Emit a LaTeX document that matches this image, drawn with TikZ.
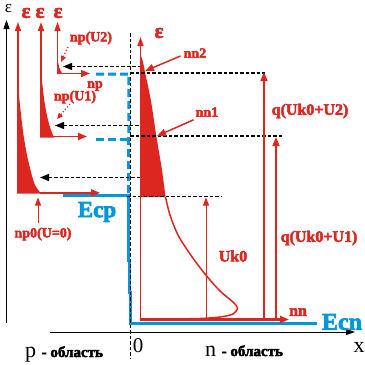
\documentclass[tikz,border=0pt]{standalone}
\usepackage{fontspec}
\setmainfont{Liberation Serif}[BoldFeatures={FakeBold=3}]
\usetikzlibrary{arrows.meta}
\definecolor{rd}{RGB}{220,38,32}
\definecolor{bl}{RGB}{0,152,218}
\begin{document}
\begin{tikzpicture}[x=1pt,y=-1pt,
  redax/.style={draw=rd, line width=1.6pt, -{Triangle[length=9pt,width=6pt]}},
  redarr/.style={draw=rd, line width=1.6pt, -{Triangle[length=9pt,width=7pt]}},
  thinarr/.style={draw=rd, line width=0.8pt, -{Triangle[length=8pt,width=6pt]}},
  dotarr/.style={draw=rd, line width=1.2pt, dotted, -{Triangle[length=6pt,width=5pt]}},
  bdash/.style={draw=black, line width=1.3pt, dash pattern=on 3.5pt off 2pt},
  barr/.style={bdash, {Triangle[length=9pt,width=7pt]}-},
  bluesolid/.style={draw=bl, line width=3pt, line join=miter},
  bluedash/.style={draw=bl, line width=3pt, dash pattern=on 8pt off 4pt},
  rlab/.style={text=rd, font=\bfseries\fontsize{14}{14}\selectfont, inner sep=0pt},
  qlab/.style={text=rd, font=\bfseries\fontsize{16}{16}\selectfont, inner sep=0pt},
  elab/.style={text=rd, font=\bfseries\fontsize{21}{21}\selectfont, inner sep=0pt},
  blab/.style={text=bl, font=\bfseries\fontsize{23}{23}\selectfont, inner sep=0pt},
  klab/.style={text=black, inner sep=0pt}]
\useasboundingbox (0,0) rectangle (365,365);

% ---------- fills (distributions) ----------
\fill[rd] plot[smooth] coordinates {(17,74) (18.5,90) (20.5,110) (23.5,135) (27,155) (31,172) (35,185) (41,193.5)} -- (17,193.5) -- cycle;
\fill[rd] plot[smooth] coordinates {(40,63) (41.5,75) (43,90) (45,105) (48,120) (51,130) (54,137.5)} -- (40,137.5) -- cycle;
\fill[rd] plot[smooth] coordinates {(57,54) (58,62) (59.5,68) (62,73.5)} -- (57,73.5) -- cycle;
\fill[rd] plot[smooth] coordinates {(140,54) (142.5,60) (145,72) (148,86) (151,101) (153.5,117) (156,134) (159,152) (162,170) (164,185) (165.5,197)} -- (140,197) -- cycle;
\draw[rd, line width=1.5pt] plot[smooth] coordinates {(165.5,197) (170,215) (178,235) (190,254) (205,274) (220,291) (233,302) (237.5,308) (233,314) (220,317) (200,318.5) (170,319)};

% ---------- blue levels ----------
\coordinate (bp0) at (63,195.5);
\coordinate (bp1) at (128.5,195.5);
\coordinate (bn0) at (130.5,323.5);
\coordinate (bn1) at (317,323.5);
\draw[bluesolid] (bp0) -- (bp1) -- (128.5,260) -- (129.5,260) -- (129.5,292) -- (130.5,292) -- (bn0) -- (bn1);
\coordinate (bd1) at (96,74);
\coordinate (bd2) at (129,74);
\coordinate (bd3) at (96,139);
\coordinate (bd4) at (129,139);
\draw[bluedash] (bd1) -- (bd2) -- (bp1);
\draw[bluedash] (bd3) -- (bd4);

% ---------- axes ----------
\coordinate (eb) at (6.5,323);
\coordinate (et) at (6.5,20);
\draw[line width=1.2pt, -{Triangle[length=9pt,width=6pt]}] (eb) -- (et);
\coordinate (xl) at (50,332);
\coordinate (xr) at (355,332);
\draw[line width=1pt, -{Triangle[length=9pt,width=6pt]}] (xl) -- (xr);
\coordinate (zt) at (130.5,33);
\coordinate (zb) at (130.5,358);
\draw[bdash] (zt) -- (zb);

% ---------- black dashed levels ----------
\coordinate (a0) at (140,66.5);  \coordinate (a1) at (63,66.5);
\coordinate (c0) at (140,125.5); \coordinate (c1) at (55,125.5);
\coordinate (e0) at (140,177.5); \coordinate (e1) at (40,177.5);
\draw[barr] (a1) -- (a0);
\draw[barr] (c1) -- (c0);
\draw[barr] (e1) -- (e0);
\coordinate (b0) at (130,73);   \coordinate (b1) at (265,73);
\coordinate (d0) at (130,136);  \coordinate (d1) at (283,136);
\coordinate (f0) at (127,196.5); \coordinate (f1) at (222,196.5);
\draw[bdash] (b0) -- (b1);
\draw[bdash] (d0) -- (d1);
\draw[bdash] (f0) -- (f1);

% ---------- red axes of distributions ----------
\coordinate (p1b) at (18,193); \coordinate (p1t) at (18,22);
\coordinate (p2b) at (41,137); \coordinate (p2t) at (41,22);
\coordinate (p3b) at (57.5,73); \coordinate (p3t) at (57.5,22);
\draw[redax] (p1b) -- (p1t);
\draw[redax] (p2b) -- (p2t);
\draw[redax] (p3b) -- (p3t);
\coordinate (h1a) at (40,192.8); \coordinate (h1b) at (100,192.8);
\coordinate (h2a) at (53,136.5); \coordinate (h2b) at (87,136.5);
\coordinate (h3a) at (57,73.5);  \coordinate (h3b) at (90,73.5);
\draw[redarr] (h1a) -- (h1b);
\draw[redarr] (h2a) -- (h2b);
\draw[redarr] (h3a) -- (h3b);
\coordinate (nb) at (140.5,319); \coordinate (nt) at (140.5,37);
\draw[redax] (nb) -- (nt);
\coordinate (nna) at (140,319.5); \coordinate (nnb) at (289,319.5);
\draw[draw=rd, line width=2.5pt, -{Triangle[length=9pt,width=7pt]}] (nna) -- (nnb);
\coordinate (q2a) at (264,319); \coordinate (q2b) at (264,72);
\coordinate (q1a) at (276,319); \coordinate (q1b) at (276,137);
\draw[redarr] (q2a) -- (q2b);
\draw[redarr] (q1a) -- (q1b);
\coordinate (uka) at (206,318); \coordinate (ukb) at (206,197.5);
\draw[thinarr] (uka) -- (ukb);

% ---------- labels ----------
\node[klab, font=\fontsize{17}{17}\selectfont] (eps) at (8.5,9) {ε};
\node[elab] (e1l) at (26,13) {ε};
\node[elab] (e2l) at (40,13) {ε};
\node[elab] (e3l) at (58,13) {ε};
\node[elab] (e4l) at (159,33) {ε};

\node[rlab] (npu2) at (91,38) {np(U2)};
\coordinate (npu2t) at (61,62);
\draw[dotarr] (68,47) -- (npu2t);
\node[rlab] (np) at (95,86) {np};
\node[rlab] (npu1) at (75,97) {np(U1)};
\coordinate (npu1t) at (57,119);
\draw[dotarr] (70,104) -- (npu1t);
\node[rlab] (np0) at (43,234) {np0(U=0)};
\coordinate (np0t) at (38,197.5);
\draw[draw=rd, line width=1pt, -{Triangle[length=8pt,width=6pt]}] (np0.north -| np0t) ++(0,-4) -- (np0t);

\node[rlab] (nn2) at (195,53) {nn2};
\coordinate (nn2t) at (145,71);
\draw[draw=rd, line width=1.5pt, -{Triangle[length=9pt,width=7pt]}] (nn2.west) ++(-3,3) -- (nn2t);
\node[rlab] (nn1) at (207,112) {nn1};
\coordinate (nn1t) at (157,136);
\draw[draw=rd, line width=1.5pt, -{Triangle[length=9pt,width=7pt]}] (nn1.south west) ++(-2,3) -- (nn1t);
\node[rlab, font=\bfseries\fontsize{16}{16}\selectfont] (nn) at (298,312) {nn};

\node[qlab] (uk0) at (233,256) {Uk0};
\node[qlab] (q2) at (310,111) {q(Uk0+U2)};
\node[qlab] (q1) at (319,238) {q(Uk0+U1)};

\node[blab] (ecp) at (97,212) {Ecp};
\node[blab, font=\bfseries\fontsize{24}{24}\selectfont] (ecn) at (342,322) {Ecn};

\node[klab, anchor=base, font=\fontsize{21}{21}\selectfont] (zero) at (138,352) {0};
\node[klab, anchor=base, font=\fontsize{22}{22}\selectfont] (xlab) at (359,352) {x};
\node[klab, anchor=base west] (pobl) at (25,357) {\fontsize{22}{22}\selectfont p \bfseries\fontsize{15}{15}\selectfont - область};
\node[klab, anchor=base west] (nobl) at (205,356) {\fontsize{22}{22}\selectfont n \bfseries\fontsize{15}{15}\selectfont - область};
\end{tikzpicture}
\end{document}
